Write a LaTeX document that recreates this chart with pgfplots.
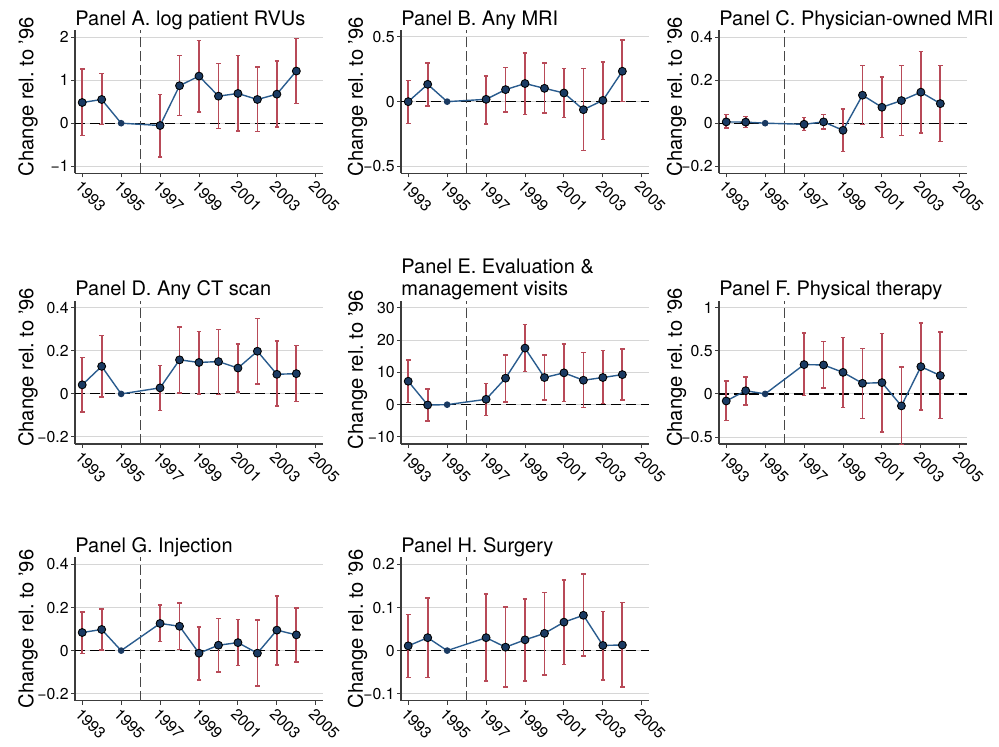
\documentclass[border=0pt]{standalone}
\usepackage{fontspec}
\setmainfont{TeX Gyre Heros}
\usepackage{pgfplots}
\usepackage{pgfplotstable}
\pgfplotsset{compat=1.18}
\definecolor{lineblue}{RGB}{42,92,142}
\definecolor{dotblue}{RGB}{26,58,98}
\definecolor{cired}{RGB}{184,74,88}
\definecolor{gridgray}{RGB}{214,214,214}
\definecolor{axgray}{RGB}{60,60,60}

\pgfplotstableread{
yr est lo hi
1993 0.48 -0.29 1.26
1994 0.55 -0.03 1.155
1995 0 0 0
1997 -0.054 -0.78 0.667
1998 0.87 0.178 1.566
1999 1.093 0.264 1.915
2000 0.628 -0.124 1.38
2001 0.69 -0.186 1.566
2002 0.55 -0.194 1.30
2003 0.674 -0.085 1.44
2004 1.21 0.457 1.96
}\tabA
\pgfplotstableread{
yr est lo hi
1993 0.0 -0.168 0.163
1994 0.134 -0.034 0.30
1995 0 0 0
1997 0.018 -0.173 0.2
1998 0.093 -0.08 0.264
1999 0.14 -0.10 0.377
2000 0.103 -0.088 0.297
2001 0.067 -0.121 0.256
2002 -0.062 -0.377 0.256
2003 0.01 -0.292 0.307
2004 0.235 0.0 0.478
}\tabB
\pgfplotstableread{
yr est lo hi
1993 0.006 -0.023 0.04
1994 0.005 -0.019 0.03
1995 0 0 0
1997 -0.005 -0.033 0.026
1998 0.006 -0.026 0.04
1999 -0.033 -0.132 0.067
2000 0.13 -0.005 0.267
2001 0.074 -0.067 0.215
2002 0.105 -0.056 0.267
2003 0.144 -0.045 0.333
2004 0.091 -0.084 0.267
}\tabC
\pgfplotstableread{
yr est lo hi
1993 0.042 -0.085 0.17
1994 0.128 -0.015 0.272
1995 0 0 0
1997 0.028 -0.077 0.132
1998 0.158 0.005 0.31
1999 0.146 0.0 0.29
2000 0.15 -0.002 0.299
2001 0.12 0.008 0.232
2002 0.198 0.046 0.35
2003 0.091 -0.057 0.245
2004 0.094 -0.036 0.224
}\tabD
\pgfplotstableread{
yr est lo hi
1993 7.25 0.6 13.9
1994 -0.1 -5.0 4.8
1995 0 0 0
1997 1.66 -3.4 6.6
1998 8.2 0.9 15.4
1999 17.5 10.2 24.8
2000 8.4 1.45 15.4
2001 9.85 0.93 18.8
2002 7.56 -0.83 16.2
2003 8.4 0.41 16.8
2004 9.3 1.45 17.2
}\tabE
\pgfplotstableread{
yr est lo hi
1993 -0.082 -0.311 0.152
1994 0.037 -0.131 0.197
1995 0 0 0
1997 0.34 -0.02 0.705
1998 0.336 0.066 0.607
1999 0.25 -0.16 0.656
2000 0.123 -0.287 0.525
2001 0.131 -0.44 0.70
2002 -0.139 -0.586 0.31
2003 0.316 -0.184 0.82
2004 0.213 -0.287 0.717
}\tabF
\pgfplotstableread{
yr est lo hi
1993 0.084 -0.014 0.18
1994 0.098 0.002 0.192
1995 0 0 0
1997 0.126 0.042 0.211
1998 0.113 0.006 0.22
1999 -0.012 -0.136 0.109
2000 0.025 -0.099 0.149
2001 0.037 -0.07 0.144
2002 -0.012 -0.164 0.141
2003 0.095 -0.067 0.254
2004 0.073 -0.053 0.197
}\tabG
\pgfplotstableread{
yr est lo hi
1993 0.011 -0.063 0.084
1994 0.03 -0.062 0.122
1995 0 0 0
1997 0.03 -0.071 0.131
1998 0.008 -0.085 0.101
1999 0.025 -0.071 0.12
2000 0.04 -0.057 0.135
2001 0.066 -0.032 0.164
2002 0.082 -0.013 0.178
2003 0.012 -0.068 0.091
2004 0.013 -0.085 0.112
}\tabH

\pgfplotsset{
  panel/.style={
    scale only axis, width=124pt, height=71.65pt, anchor=south west,
    xmin=1992.63, xmax=2005.37,
    xtick={1993,1995,1997,1999,2001,2003,2005},
    xticklabels={1993,1995,1997,1999,2001,2003,2005},
    axis x line*=bottom, axis y line*=left,
    axis line style={axgray, line width=0.6pt, -},
    tick style={axgray, line width=0.5pt},
    major tick length=2pt, tick align=outside,
    ymajorgrids, grid style={gridgray, line width=0.5pt},
    xticklabel style={yshift=-1pt, rotate=-45, anchor=north west, inner sep=0pt, font=\fontsize{7.9}{9}\selectfont},
    yticklabel style={font=\fontsize{7.9}{9}\selectfont, inner sep=1pt},
    ylabel={Change rel.\ to '96},
    ylabel style={font=\fontsize{10.1}{12}\selectfont, anchor=base},
    title style={font=\fontsize{10}{11}\selectfont, anchor=south west, at={(0,1)}, inner sep=0pt, yshift=-6pt, align=left},
    clip=false,
  },
  zeroline/.style={black, dash pattern=on 5pt off 2.5pt, line width=0.6pt, forget plot},
  vline/.style={black!72, dash pattern=on 5pt off 2pt, line width=0.7pt, forget plot},
  ciplot/.style={only marks, mark=none, forget plot, skip coords between index={2}{3},
    error bars/.cd, y dir=both, y explicit,
    error bar style={cired, line width=0.9pt},
    error mark options={cired, rotate=90, mark size=1.15pt, line width=0.75pt}},
  estplot/.style={lineblue, line width=0.7pt, mark=*, mark size=1.3pt,
    mark options={fill=dotblue, draw=dotblue}},
  table/citab/.style={x=yr, y=est, y error plus expr=\thisrow{hi}-\thisrow{est}, y error minus expr=\thisrow{est}-\thisrow{lo}},
}

\begin{document}
\begin{tikzpicture}
\useasboundingbox (0,0) rectangle (499.5pt,373pt);

% Panel A
\begin{axis}[panel, at={(37.5pt,286.35pt)}, ymin=-1.163, ymax=2.163,
  ytick={-1,0,1,2}, yticklabels={−1,0,1,2},
  title={Panel A. log patient RVUs},
  ylabel style={at={(axis description cs:-0.168,0.535)}}]
\addplot[zeroline] coordinates {(1992.63,0) (2005.37,0)};
\addplot[vline] coordinates {(1996,-1.163) (1996,2.163)};
\addplot[ciplot] table[citab] {\tabA};
\addplot[estplot] table[x=yr,y=est] {\tabA};
\end{axis}

% Panel B
\begin{axis}[panel, at={(200.5pt,286.35pt)}, ymin=-0.554, ymax=0.554,
  ytick={-0.5,0,0.5}, yticklabels={−0.5,0,0.5},
  title={Panel B. Any MRI},
  ylabel style={at={(axis description cs:-0.154,0.535)}}]
\addplot[zeroline] coordinates {(1992.63,0) (2005.37,0)};
\addplot[vline] coordinates {(1996,-0.554) (1996,0.554)};
\addplot[ciplot] table[citab] {\tabB};
\addplot[estplot] table[x=yr,y=est] {\tabB};
\end{axis}

% Panel C
\begin{axis}[panel, at={(359.5pt,286.35pt)}, ymin=-0.2326, ymax=0.4326,
  ytick={-0.2,0,0.2,0.4}, yticklabels={−0.2,0,0.2,0.4},
  title={Panel C. Physician-owned MRI},
  ylabel style={at={(axis description cs:-0.15,0.535)}}]
\addplot[zeroline] coordinates {(1992.63,0) (2005.37,0)};
\addplot[vline] coordinates {(1996,-0.2326) (1996,0.4326)};
\addplot[ciplot] table[citab] {\tabC};
\addplot[estplot] table[x=yr,y=est] {\tabC};
\end{axis}

% Panel D
\begin{axis}[panel, at={(37.5pt,151pt)}, ymin=-0.2326, ymax=0.4326,
  ytick={-0.2,0,0.2,0.4}, yticklabels={−0.2,0,0.2,0.4},
  title={Panel D. Any CT scan},
  ylabel style={at={(axis description cs:-0.168,0.535)}}]
\addplot[zeroline] coordinates {(1992.63,0) (2005.37,0)};
\addplot[vline] coordinates {(1996,-0.2326) (1996,0.4326)};
\addplot[ciplot] table[citab] {\tabD};
\addplot[estplot] table[x=yr,y=est] {\tabD};
\end{axis}

% Panel E
\begin{axis}[panel, at={(200.5pt,151pt)}, ymin=-12.17, ymax=32.17,
  ytick={-10,0,10,20,30}, yticklabels={−10,0,10,20,30},
  title={Panel E. Evaluation \&\\management visits},
  ylabel style={at={(axis description cs:-0.154,0.52)}}]
\addplot[zeroline] coordinates {(1992.63,0) (2005.37,0)};
\addplot[vline] coordinates {(1996,-12.17) (1996,32.17)};
\addplot[ciplot] table[citab] {\tabE};
\addplot[estplot] table[x=yr,y=est] {\tabE};
\end{axis}

% Panel F
\begin{axis}[panel, at={(359.5pt,151pt)}, ymin=-0.581, ymax=1.081,
  ytick={-0.5,0,0.5,1}, yticklabels={−0.5,0,0.5,1},
  title={Panel F. Physical therapy},
  ylabel style={at={(axis description cs:-0.15,0.535)}}]
\addplot[zeroline] coordinates {(1992.63,0) (2005.37,0)};
\addplot[vline] coordinates {(1996,-0.581) (1996,1.081)};
\addplot[ciplot] table[citab] {\tabF};
\addplot[estplot] table[x=yr,y=est] {\tabF};
\end{axis}

% Panel G
\begin{axis}[panel, at={(37.5pt,22.65pt)}, ymin=-0.2326, ymax=0.4326,
  ytick={-0.2,0,0.2,0.4}, yticklabels={−0.2,0,0.2,0.4},
  title={Panel G. Injection},
  ylabel style={at={(axis description cs:-0.168,0.5)}}]
\addplot[zeroline] coordinates {(1992.63,0) (2005.37,0)};
\addplot[vline] coordinates {(1996,-0.2326) (1996,0.4326)};
\addplot[ciplot] table[citab] {\tabG};
\addplot[estplot] table[x=yr,y=est] {\tabG};
\end{axis}

% Panel H
\begin{axis}[panel, at={(200.5pt,22.65pt)}, ymin=-0.1163, ymax=0.2163,
  ytick={-0.1,0,0.1,0.2}, yticklabels={−0.1,0,0.1,0.2},
  title={Panel H. Surgery},
  ylabel style={at={(axis description cs:-0.154,0.5)}}]
\addplot[zeroline] coordinates {(1992.63,0) (2005.37,0)};
\addplot[vline] coordinates {(1996,-0.1163) (1996,0.2163)};
\addplot[ciplot] table[citab] {\tabH};
\addplot[estplot] table[x=yr,y=est] {\tabH};
\end{axis}
\end{tikzpicture}
\end{document}
